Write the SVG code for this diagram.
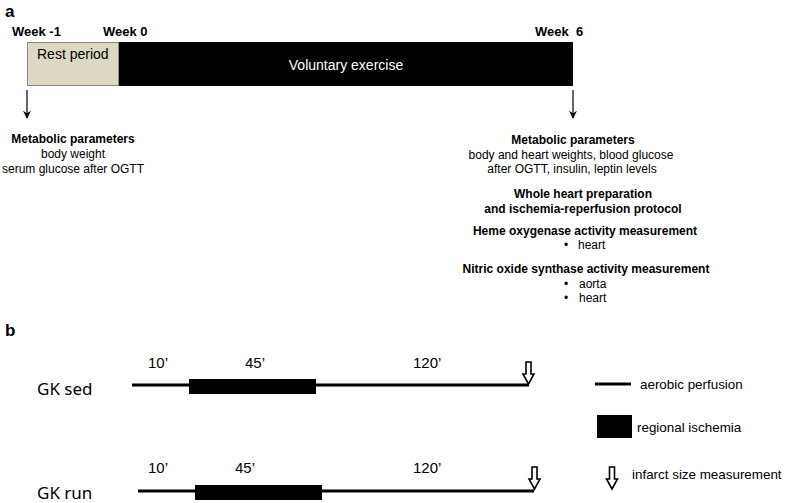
<svg xmlns="http://www.w3.org/2000/svg" width="785" height="503" viewBox="0 0 785 503">
<style>
text{font-family:"Liberation Sans",Arial,sans-serif;fill:#000}
.b{font-weight:bold;font-size:12px}
.r{font-size:12px}
.c{text-anchor:middle}
.lab{font-family:"Noto Sans","Open Sans",sans-serif;font-size:17px}
.t{font-size:15px}
.lg{font-size:13.4px}
.line{stroke:#000;stroke-width:3;fill:none}
.ha{fill:#fff;stroke:#000;stroke-width:1.6}
</style>
<defs>
<marker id="ah" viewBox="0 0 10 10" refX="9" refY="5" markerWidth="8" markerHeight="8" orient="auto" markerUnits="userSpaceOnUse">
<path d="M0,0 L10,5 L0,10 L3,5 Z" fill="#000"/>
</marker>
<path id="hollow" d="M-2.5,0 H2.5 V12 H5.5 L0,22 L-5.5,12 H-2.5 Z"/>
</defs>
<text x="5" y="17" style="font-weight:bold;font-size:17px">a</text>
<text x="5" y="336" style="font-weight:bold;font-size:17px">b</text>
<g id="timeline">
<text x="12" y="36" class="b" style="font-size:13px">Week -1</text>
<text x="103" y="36" class="b" style="font-size:13px">Week 0</text>
<text x="535" y="36" class="b" style="font-size:13px">Week</text>
<text x="576" y="36" class="b" style="font-size:13px">6</text>
<rect x="27.5" y="42.5" width="91" height="43" fill="#ddd8c3" stroke="#8a8a80" stroke-width="1"/>
<rect x="119" y="42" width="454" height="44" fill="#000"/>
<text x="37" y="59" style="font-size:14px">Rest period</text>
<text x="346" y="70" class="c" style="font-size:14px;fill:#fff">Voluntary  exercise</text>
</g>
<g id="connectors">
<line x1="27" y1="90" x2="27" y2="118" stroke="#000" stroke-width="1.2" marker-end="url(#ah)"/>
<line x1="573" y1="90" x2="573" y2="118" stroke="#000" stroke-width="1.2" marker-end="url(#ah)"/>
</g>
<g id="left-params">
<text x="73" y="143" class="b c">Metabolic parameters</text>
<text x="73" y="158" class="r c">body weight</text>
<text x="73" y="173" class="r c">serum glucose after OGTT</text>
</g>
<g id="right-params">
<text x="573" y="144" class="b c">Metabolic parameters</text>
<text x="571" y="159" class="r c">body and heart weights,  blood glucose</text>
<text x="572" y="173" class="r c">after OGTT, insulin, leptin levels</text>
<text x="583" y="198" class="b c">Whole heart preparation</text>
<text x="583" y="213" class="b c">and ischemia-reperfusion protocol</text>
<text x="585" y="235" class="b c">Heme oxygenase activity measurement</text>
<text x="564" y="249" class="r">•</text><text x="578" y="249" class="r">heart</text>
<text x="586" y="273" class="b c">Nitric oxide synthase activity measurement</text>
<text x="564" y="288" class="r">•</text><text x="579" y="288" class="r">aorta</text>
<text x="564" y="302" class="r">•</text><text x="579" y="302" class="r">heart</text>
</g>
<g id="gk-sed">
<text x="37" y="395" class="lab">GK sed</text>
<text x="148" y="368" class="t">10’</text>
<text x="245" y="368" class="t">45’</text>
<text x="413" y="368" class="t">120’</text>
<line x1="132" y1="385" x2="529" y2="385" class="line"/>
<rect x="189" y="379" width="127" height="15" fill="#000"/>
<use href="#hollow" x="528.5" y="362" class="ha"/>
</g>
<g id="gk-run">
<text x="37" y="499" class="lab">GK run</text>
<text x="148" y="473" class="t">10’</text>
<text x="235" y="473" class="t">45’</text>
<text x="413" y="473" class="t">120’</text>
<line x1="138" y1="491" x2="534" y2="491" class="line"/>
<rect x="195" y="485" width="127" height="15" fill="#000"/>
<use href="#hollow" x="534.5" y="467" class="ha"/>
</g>
<g id="legend">
<line x1="595" y1="384" x2="631" y2="384" class="line"/>
<text x="640" y="389" class="lg">aerobic perfusion</text>
<rect x="597" y="415" width="35" height="23" fill="#000"/>
<text x="637" y="432" class="lg">regional ischemia</text>
<use href="#hollow" x="612" y="467" class="ha"/>
<text x="632" y="479" class="lg">infarct size measurement</text>
</g>
</svg>
